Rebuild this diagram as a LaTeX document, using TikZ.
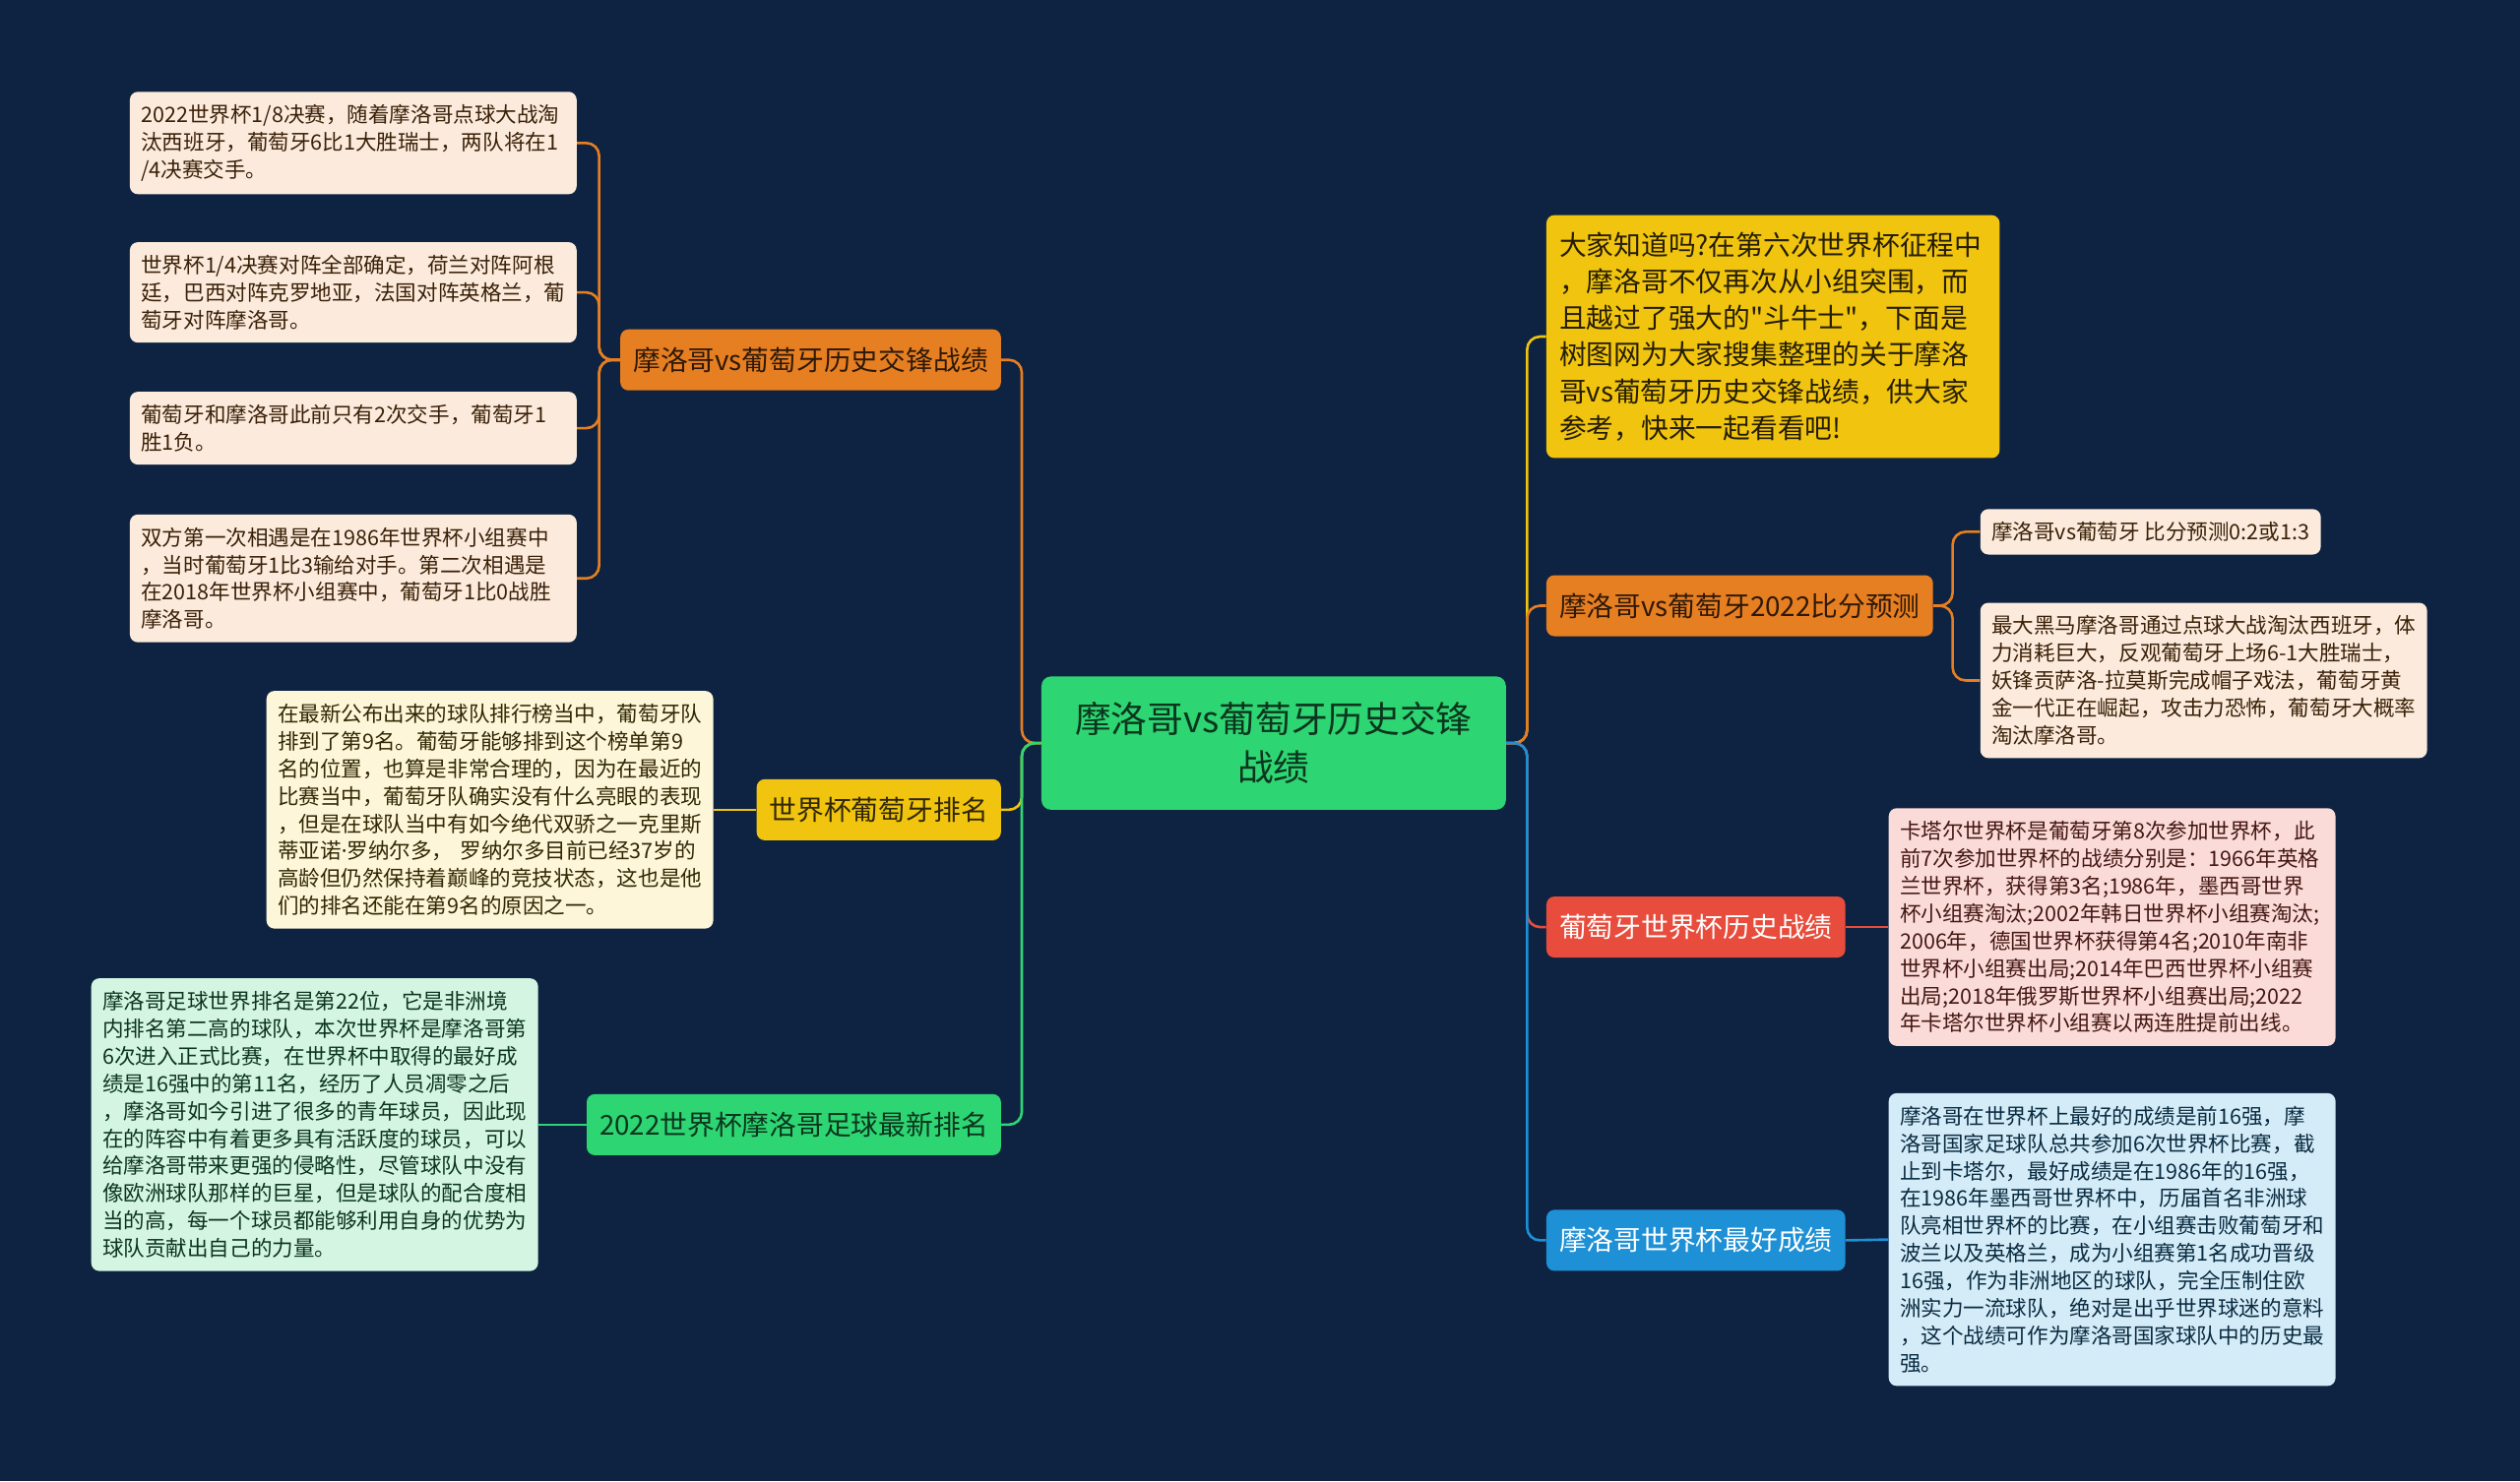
\documentclass[tikz,border=0pt]{standalone}
\usepackage{fontspec}
\setmainfont{Noto Sans CJK SC}
\newfontfamily\latinfont{Noto Sans}
\definecolor{bg}{HTML}{0D2341}
\definecolor{cgreen}{HTML}{2ED573}
\definecolor{corange}{HTML}{E67E22}
\definecolor{cyellow}{HTML}{F1C40F}
\definecolor{cred}{HTML}{E74C3C}
\definecolor{cblue}{HTML}{1E90D6}
\definecolor{orangeleaf}{HTML}{FCEBDC}
\definecolor{yellowleaf}{HTML}{FEF6D8}
\definecolor{greenleaf}{HTML}{D5F5E3}
\definecolor{redleaf}{HTML}{FADBD8}
\definecolor{blueleaf}{HTML}{D4EBF8}
\newcommand{\sq}{\XeTeXglyph\XeTeXcharglyph"22\relax}
\begin{document}
\begin{tikzpicture}[x=1pt, y=-1pt,
  link/.style={line width=1.6pt, rounded corners=8pt},
  hub/.style={fill=cgreen, text=cgreen!25!black, rounded corners=6pt, minimum width=289pt, minimum height=83pt, align=center, font=\fontsize{22.5}{30}\selectfont},
  branch/.style={rounded corners=5pt, inner xsep=8pt, inner ysep=0pt, minimum height=38pt, font=\fontsize{17}{20}\selectfont},
  leaf/.style={rounded corners=5pt, inner xsep=7pt, inner ysep=8pt, text width=264pt, align=left, font=\fontsize{13.2}{17.1}\selectfont},
  intro/.style={rounded corners=5pt, inner xsep=8pt, inner ysep=10.5pt, text width=266pt, align=left, font=\fontsize{17}{22.8}\selectfont}]
  \useasboundingbox[fill=bg] (0,0) rectangle (1568,922);

  \node[hub] (root) at (792.5,462.5) {摩洛哥vs葡萄牙历史交锋\\战绩};

  % Left side
  \node[branch, fill=corange, text=corange!20!black, anchor=east] (hist) at (623,224) {摩洛哥vs葡萄牙历史交锋战绩};
  \node[branch, fill=cyellow, text=cyellow!20!black, anchor=east] (rank) at (623,504) {世界杯葡萄牙排名};
  \node[branch, fill=cgreen, text=cgreen!25!black, anchor=east] (mar) at (623,700) {2022世界杯摩洛哥足球最新排名};

  \node[leaf, fill=orangeleaf, text=corange!25!black, anchor=east] (hist1) at (359,89) {2022世界杯1/8决赛，随着摩洛哥点球大战淘\\汰西班牙，葡萄牙6比1大胜瑞士，两队将在1\\/4决赛交手。};
  \node[leaf, fill=orangeleaf, text=corange!25!black, anchor=east] (hist2) at (359,182) {世界杯1/4决赛对阵全部确定，荷兰对阵阿根\\廷，巴西对阵克罗地亚，法国对阵英格兰，葡\\萄牙对阵摩洛哥。};
  \node[leaf, fill=orangeleaf, text=corange!25!black, anchor=east] (hist3) at (359,266.5) {葡萄牙和摩洛哥此前只有2次交手，葡萄牙1\\胜1负。};
  \node[leaf, fill=orangeleaf, text=corange!25!black, anchor=east] (hist4) at (359,360) {双方第一次相遇是在1986年世界杯小组赛中\\，当时葡萄牙1比3输给对手。第二次相遇是\\在2018年世界杯小组赛中，葡萄牙1比0战胜\\摩洛哥。};
  \node[leaf, fill=yellowleaf, text=cyellow!20!black, anchor=east] (rank1) at (444,504) {在最新公布出来的球队排行榜当中，葡萄牙队\\排到了第9名。葡萄牙能够排到这个榜单第9\\名的位置，也算是非常合理的，因为在最近的\\比赛当中，葡萄牙队确实没有什么亮眼的表现\\，但是在球队当中有如今绝代双骄之一克里斯\\蒂亚诺{\latinfont ·}罗纳尔多，~罗纳尔多目前已经37岁的\\高龄但仍然保持着巅峰的竞技状态，这也是他\\们的排名还能在第9名的原因之一。};
  \node[leaf, fill=greenleaf, text=cgreen!25!black, anchor=east] (mar1) at (335,700) {摩洛哥足球世界排名是第22位，它是非洲境\\内排名第二高的球队，本次世界杯是摩洛哥第\\6次进入正式比赛，在世界杯中取得的最好成\\绩是16强中的第11名，经历了人员凋零之后\\，摩洛哥如今引进了很多的青年球员，因此现\\在的阵容中有着更多具有活跃度的球员，可以\\给摩洛哥带来更强的侵略性，尽管球队中没有\\像欧洲球队那样的巨星，但是球队的配合度相\\当的高，每一个球员都能够利用自身的优势为\\球队贡献出自己的力量。};

  % Right side
  \node[intro, fill=cyellow, text=cyellow!15!black, anchor=west] (intro) at (962,209.5) {大家知道吗?在第六次世界杯征程中\\，摩洛哥不仅再次从小组突围，而\\且越过了强大的\sq 斗牛士\sq ，下面是\\树图网为大家搜集整理的关于摩洛\\哥vs葡萄牙历史交锋战绩，供大家\\参考，快来一起看看吧!};
  \node[branch, fill=corange, text=corange!20!black, anchor=west] (pred) at (962,377) {摩洛哥vs葡萄牙2022比分预测};
  \node[branch, fill=cred, text=white, anchor=west] (por) at (962,577) {葡萄牙世界杯历史战绩};
  \node[branch, fill=cblue, text=white, anchor=west] (best) at (962,772) {摩洛哥世界杯最好成绩};

  \node[leaf, text width=, fill=orangeleaf, text=corange!25!black, anchor=west] (pred1) at (1232,331) {摩洛哥vs葡萄牙 比分预测0:2或1:3};
  \node[leaf, fill=orangeleaf, text=corange!25!black, anchor=west] (pred2) at (1232,423.5) {最大黑马摩洛哥通过点球大战淘汰西班牙，体\\力消耗巨大，反观葡萄牙上场6-1大胜瑞士，\\妖锋贡萨洛-拉莫斯完成帽子戏法，葡萄牙黄\\金一代正在崛起，攻击力恐怖，葡萄牙大概率\\淘汰摩洛哥。};
  \node[leaf, fill=redleaf, text=cred!30!black, anchor=west] (por1) at (1175,577) {卡塔尔世界杯是葡萄牙第8次参加世界杯，此\\前7次参加世界杯的战绩分别是：1966年英格\\兰世界杯，获得第3名;1986年，墨西哥世界\\杯小组赛淘汰;2002年韩日世界杯小组赛淘汰;\\2006年，德国世界杯获得第4名;2010年南非\\世界杯小组赛出局;2014年巴西世界杯小组赛\\出局;2018年俄罗斯世界杯小组赛出局;2022\\年卡塔尔世界杯小组赛以两连胜提前出线。};
  \node[leaf, fill=blueleaf, text=cblue!30!black, anchor=west] (best1) at (1175,771.5) {摩洛哥在世界杯上最好的成绩是前16强，摩\\洛哥国家足球队总共参加6次世界杯比赛，截\\止到卡塔尔，最好成绩是在1986年的16强，\\在1986年墨西哥世界杯中，历届首名非洲球\\队亮相世界杯的比赛，在小组赛击败葡萄牙和\\波兰以及英格兰，成为小组赛第1名成功晋级\\16强，作为非洲地区的球队，完全压制住欧\\洲实力一流球队，绝对是出乎世界球迷的意料\\，这个战绩可作为摩洛哥国家球队中的历史最\\强。};

  % Connectors
  \draw[link, corange] (root.west) -- ++(-12,0) |- (hist.east);
  \draw[link, cyellow] (root.west) -- ++(-12,0) |- (rank.east);
  \draw[link, cgreen] (root.west) -- ++(-12,0) |- (mar.east);
  \foreach \n in {hist1,hist2,hist3,hist4}
    \draw[link, corange] (hist.west) -- ++(-13,0) |- (\n.east);
  \draw[link, cyellow] (rank.west) -- (rank1.east);
  \draw[link, cgreen] (mar.west) -- (mar1.east);

  \draw[link, cyellow] (root.east) -- ++(13,0) |- (intro.west);
  \draw[link, corange] (root.east) -- ++(13,0) |- (pred.west);
  \draw[link, cred] (root.east) -- ++(13,0) |- (por.west);
  \draw[link, cblue] (root.east) -- ++(13,0) |- (best.west);
  \foreach \n in {pred1,pred2}
    \draw[link, corange] (pred.east) -- ++(12,0) |- (\n.west);
  \draw[link, cred] (por.east) -- (por1.west);
  \draw[link, cblue] (best.east) -- (best1.west);
\end{tikzpicture}
\end{document}
